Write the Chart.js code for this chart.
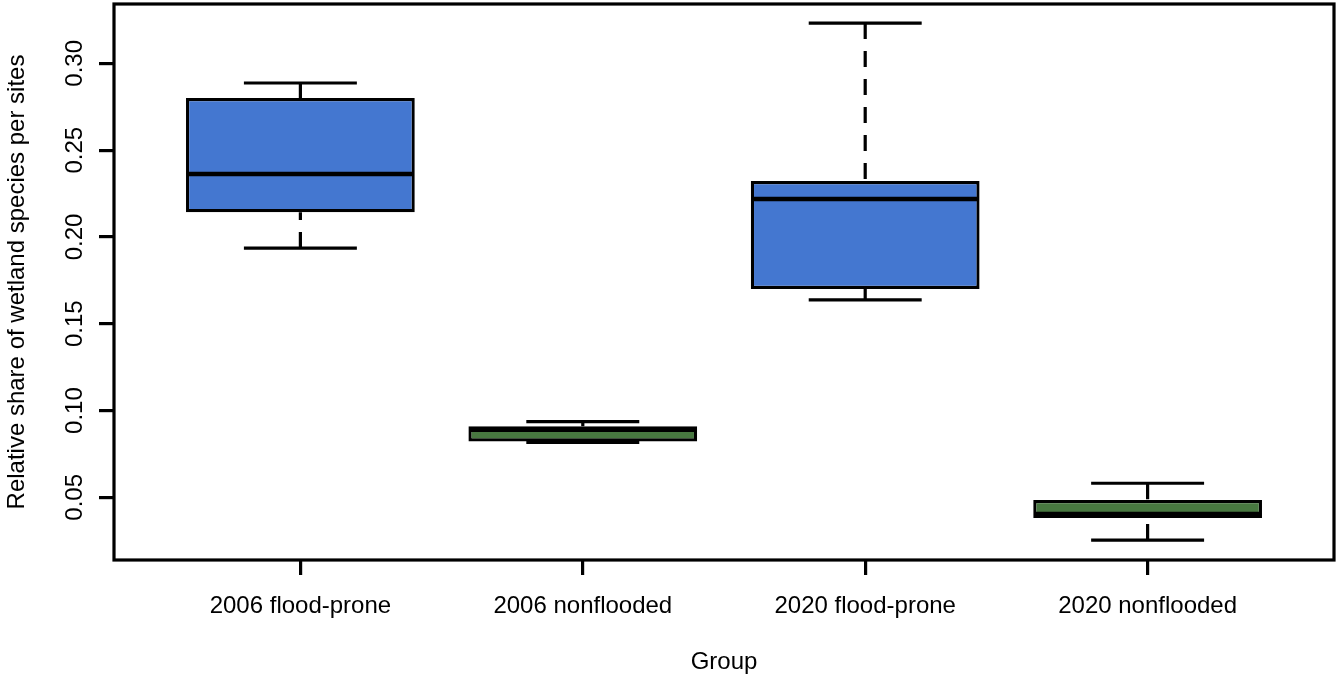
<!DOCTYPE html>
<html>
<head>
<meta charset="utf-8">
<script src="https://cdn.jsdelivr.net/npm/chart.js@4"></script>
<style>
  body { margin: 0; background: #fff; }
</style>
</head>
<body>
<canvas id="boxChart" width="1338" height="675"></canvas>
<script>
const groups = ["2006 flood-prone", "2006 nonflooded", "2020 flood-prone", "2020 nonflooded"];
const whiskLow = [0.1936, 0.0817, 0.1637, 0.0254];
const q1 = [0.2143, 0.0822, 0.1700, 0.0381];
const median = [0.2362, 0.0889, 0.2218, 0.0404];
const q3 = [0.2800, 0.0909, 0.2322, 0.0485];
const whiskHigh = [0.2887, 0.0936, 0.3232, 0.0581];
const yTicks = [0.05, 0.10, 0.15, 0.20, 0.25, 0.30];
const boxColors = ["#4477d0", "#487840", "#4477d0", "#487840"];

const fontFamily = "'Liberation Sans', Arial, Helvetica, sans-serif";

// whiskers, staples, medians, frame and rotated y labels (R boxplot look)
const boxExtras = {
  id: "boxExtras",
  afterDatasetsDraw(chart) {
    const ctx = chart.ctx;
    const x = chart.scales.x;
    const y = chart.scales.y;
    const bars = chart.getDatasetMeta(0).data;
    ctx.save();
    ctx.strokeStyle = "#000";
    groups.forEach((g, i) => {
      const cx = x.getPixelForValue(i + 1);
      const capL = x.getPixelForValue(i + 1 - 0.2);
      const capR = x.getPixelForValue(i + 1 + 0.2);

      ctx.lineWidth = 3.2;
      ctx.lineCap = "butt";
      ctx.setLineDash([16, 12]);
      ctx.beginPath();
      ctx.moveTo(cx, y.getPixelForValue(whiskHigh[i]));
      ctx.lineTo(cx, y.getPixelForValue(q3[i]));
      ctx.moveTo(cx, y.getPixelForValue(whiskLow[i]));
      ctx.lineTo(cx, y.getPixelForValue(q1[i]));
      ctx.stroke();
      ctx.setLineDash([]);

      ctx.beginPath();
      ctx.moveTo(capL, y.getPixelForValue(whiskHigh[i]));
      ctx.lineTo(capR, y.getPixelForValue(whiskHigh[i]));
      ctx.moveTo(capL, y.getPixelForValue(whiskLow[i]));
      ctx.lineTo(capR, y.getPixelForValue(whiskLow[i]));
      ctx.stroke();

      const bar = bars[i];
      ctx.lineWidth = 4.5;
      ctx.beginPath();
      ctx.moveTo(bar.x - bar.width / 2 + 1, y.getPixelForValue(median[i]));
      ctx.lineTo(bar.x + bar.width / 2 - 1, y.getPixelForValue(median[i]));
      ctx.stroke();
    });
    ctx.restore();
  },
  afterDraw(chart) {
    const ctx = chart.ctx;
    const a = chart.chartArea;
    const y = chart.scales.y;
    ctx.save();
    ctx.strokeStyle = "#000";
    ctx.lineWidth = 3.2;
    ctx.strokeRect(a.left, a.top, a.right - a.left, a.bottom - a.top);

    ctx.fillStyle = "#000";
    ctx.font = "24px " + fontFamily;
    ctx.textAlign = "center";
    ctx.textBaseline = "alphabetic";
    yTicks.forEach(v => {
      ctx.save();
      ctx.translate(82, y.getPixelForValue(v));
      ctx.rotate(-Math.PI / 2);
      ctx.fillText(v.toFixed(2), 0, 0);
      ctx.restore();
    });
    ctx.restore();
  }
};

const boxData = {
  datasets: [
    {
      label: "IQR",
      data: groups.map((g, i) => ({ x: i + 1, y: [q1[i], q3[i]] })),
      backgroundColor: boxColors,
      borderColor: "#000",
      borderWidth: 3.2,
      borderSkipped: false,
      barPercentage: 1,
      categoryPercentage: 0.81,
    },
  ],
};

const config = {
  type: "bar",
  data: boxData,
  options: {
    responsive: false,
    animation: false,
    layout: { padding: { top: 4, right: 4, left: 0, bottom: 0 } },
    plugins: {
      legend: { display: false },
      tooltip: { enabled: false },
    },
    scales: {
      x: {
        type: "linear",
        offset: false,
        min: 0.34,
        max: 4.66,
        afterBuildTicks: (scale) => {
          scale.ticks = groups.map((g, i) => ({ value: i + 1 }));
        },
        afterFit: (scale) => {
          scale.height = 115;
        },
        ticks: {
          autoSkip: false,
          maxRotation: 0,
          minRotation: 0,
          padding: 17,
          color: "#000",
          font: { family: fontFamily, size: 24 },
          callback: (v) => groups[Math.round(v) - 1],
        },
        grid: {
          offset: false,
          drawOnChartArea: false,
          drawTicks: true,
          tickLength: 15,
          lineWidth: 3.2,
          color: "#000",
        },
        border: { display: false },
        title: {
          display: true,
          text: "Group",
          color: "#000",
          font: { family: fontFamily, size: 24 },
          padding: { top: 0, bottom: -2 },
        },
      },
      y: {
        min: 0.0139,
        max: 0.3342,
        afterBuildTicks: (scale) => {
          scale.ticks = yTicks.map(v => ({ value: v }));
        },
        afterFit: (scale) => {
          scale.width = 114;
        },
        ticks: { display: false },
        grid: {
          drawOnChartArea: false,
          drawTicks: true,
          tickLength: 15,
          lineWidth: 3.2,
          color: "#000",
        },
        border: { display: false },
        title: {
          display: true,
          text: "Relative share of wetland species per sites",
          color: "#000",
          font: { family: fontFamily, size: 24 },
          padding: { top: 3, bottom: 0 },
        },
      },
    },
  },
  plugins: [boxExtras],
};

const boxCanvas = document.getElementById("boxChart");
new Chart(boxCanvas, config);
</script>
</body>
</html>
